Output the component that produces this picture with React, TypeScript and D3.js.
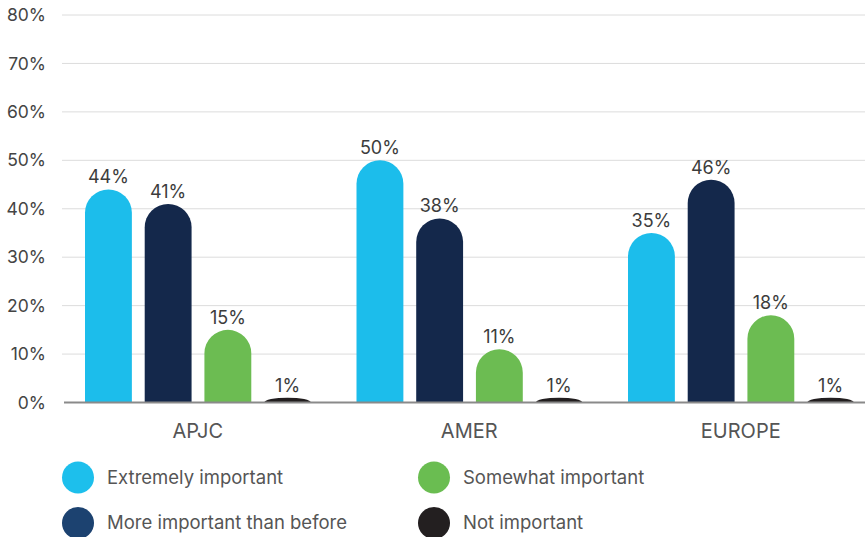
import React from "react";
import * as d3 from "d3";

const regions = ["APJC", "AMER", "EUROPE"];
const seriesNames = ["Extremely important", "More important than before", "Somewhat important", "Not important"];
const extremely = [44, 50, 35];
const moreThanBefore = [41, 38, 46];
const somewhat = [15, 11, 18];
const notImportant = [1, 1, 1];
const yTicks = [0, 10, 20, 30, 40, 50, 60, 70, 80];

const barColors = ["#1cbdeb", "#14284b", "#6cbc52", "#221e1f"];
const legendColors = ["#1dbfec", "#1c4270", "#6abd51", "#231f20"];

const W = 865;
const H = 537;
const FONT = "Inter, 'Open Sans', sans-serif";

function barPath(x: number, w: number, yTop: number, yBase: number) {
  const h = yBase - yTop;
  const r = w / 2;
  if (h <= 0) return "";
  if (h >= r) {
    return `M${x},${yBase}V${yTop + r}A${r},${r} 0 0 1 ${x + w},${yTop + r}V${yBase}Z`;
  }
  return `M${x},${yBase}A${r},${h} 0 0 1 ${x + w},${yBase}Z`;
}

export default function App() {
  const series = [extremely, moreThanBefore, somewhat, notImportant];
  const x0 = d3.scaleBand<string>().domain(regions).range([62, 876.5]).paddingInner(0).paddingOuter(0);
  const x1 = d3
    .scaleBand<string>()
    .domain(seriesNames)
    .range([23, 23 + 226])
    .paddingInner(0.215)
    .paddingOuter(0);
  const y = d3.scaleLinear().domain([0, 80]).range([402.5, 15]);

  return (
    <svg width={W} height={H} style={{ display: "block", position: "absolute", left: 0, top: 0, background: "#fff" }}>
      {yTicks.map((t) => (
        <g key={t}>
          {t > 0 && <line x1={62} x2={W} y1={y(t)} y2={y(t)} stroke="#dcdcdc" strokeWidth={1} />}
          <text x={46} y={y(t)} dy="0.35em" textAnchor="end" fontFamily={FONT} fontSize={17.5} fill="#444">
            {t}%
          </text>
        </g>
      ))}
      {regions.map((reg, gi) => (
        <g key={reg}>
          {series.map((vals, si) => {
            const bx = (x0(reg) as number) + (x1(seriesNames[si]) as number);
            const bw = x1.bandwidth();
            const v = vals[gi];
            return (
              <g key={si}>
                <path d={barPath(bx, bw, y(v), y(0))} fill={barColors[si]} />
                <text
                  x={bx + bw / 2}
                  y={y(v) - 6}
                  textAnchor="middle"
                  fontFamily={FONT}
                  fontSize={18}
                  fill="#3c3c3c"
                >
                  {v}%
                </text>
              </g>
            );
          })}
          <text
            x={(x0(reg) as number) + x0.bandwidth() / 2}
            y={431}
            dy="0.35em"
            textAnchor="middle"
            fontFamily={FONT}
            fontSize={20}
            fill="#555"
          >
            {reg}
          </text>
        </g>
      ))}
      <line x1={64} x2={W} y1={y(0)} y2={y(0)} stroke="#8a8a8a" strokeWidth={2} />
      {seriesNames.map((name, i) => {
        const col = i === 0 || i === 1 ? 0 : 1;
        const row = i === 0 || i === 2 ? 0 : 1;
        const cx = col === 0 ? 78 : 434;
        const cy = row === 0 ? 477.5 : 523;
        return (
          <g key={name}>
            <circle cx={cx} cy={cy} r={16} fill={legendColors[i]} />
            <text x={cx + 29} y={cy} dy="0.35em" fontFamily={FONT} fontSize={18.5} fill="#555">
              {name}
            </text>
          </g>
        );
      })}
    </svg>
  );
}
